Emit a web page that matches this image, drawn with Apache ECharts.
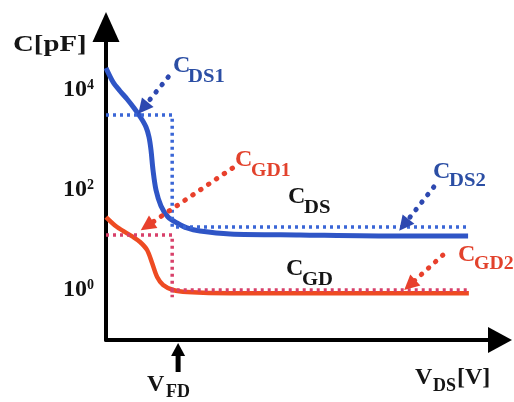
<!DOCTYPE html>
<html><head><meta charset="utf-8">
<script src="https://cdn.jsdelivr.net/npm/echarts@6/dist/echarts.min.js"></script>
<style>html,body{margin:0;padding:0;background:#fff}#c{width:514px;height:402px}</style>
</head><body><div id="c"></div>
<script>
// ---- data (V_DS in arbitrary units 0..100, C in pF, log scale) ----
const cdsX = [0, 1.78, 3.55, 5.33, 7.11, 8.88, 10.15, 10.91, 11.42, 11.93, 12.69, 13.96, 15.74, 18.02, 20.56, 23.86, 31.5, 49.2, 74.6, 91.9];
const cdsY = [27540, 14450, 9550, 6607, 4365, 2754, 1820, 1148, 631, 251, 100, 47.9, 28.8, 21.9, 17.4, 15.1, 13.2, 12.6, 12.0, 12.0];
const cgdX = [0, 2.8, 6.87, 8.65, 10.43, 11.7, 12.98, 14.5, 17.05, 20.6, 31.6, 92.1];
const cgdY = [28.8, 18.2, 11.5, 9.12, 6.31, 3.47, 1.82, 1.26, 1.0, 0.91, 0.86, 0.86];
const cds1Level = 3162, cds2Level = 18.2, cgd1Level = 12.6, cgd2Level = 1.0;
const dropX = 16.8, endX = 92, vfdX = 18.3;
const yTickExps = [0, 2, 4];
// annotation arrows: [fromX, fromC, toX, toC]
const arrowCDS1 = [15.8, 18200, 9.4, 4365];
const arrowCDS2 = [83.2, 115, 75.6, 20];
const arrowCGD1 = [32.1, 275, 10.4, 19.1];
const arrowCGD2 = [85.5, 5.0, 77.1, 1.26];

const zip = (xs, ys) => xs.map((x, i) => [x, ys[i]]);
const BLUE = '#2f55c6', BLUED = '#3a66d6', RED = '#ee4b22', REDD = '#d8406a';
const FONT = 'Liberation Serif';

function arrowML(a, color) {
  return {
    silent: true, symbol: ['none', 'triangle'], symbolSize: 15,
    label: {show: false},
    lineStyle: {color: color, width: 5, type: [0.5, 9], cap: 'round', opacity: 1},
    emphasis: {disabled: true},
    data: [[{coord: [a[0], a[1]]}, {coord: [a[2], a[3]]}]]
  };
}

const chart = echarts.init(document.getElementById('c'));
chart.setOption({
  animation: false,
  backgroundColor: '#fff',
  grid: {left: 106, right: 14, top: 27, bottom: 62},
  xAxis: {
    type: 'value', min: 0, max: 100,
    axisLine: {lineStyle: {color: '#000', width: 4}, symbol: ['none', 'triangle'], symbolSize: [26, 24]},
    axisTick: {show: false}, axisLabel: {show: false}, splitLine: {show: false}
  },
  yAxis: {
    type: 'log', logBase: 10, min: 0.1, max: 182000,
    axisLine: {show: true, onZero: false, lineStyle: {color: '#000', width: 4}, symbol: ['none', 'triangle'], symbolSize: [27, 30]},
    axisTick: {show: false}, splitLine: {show: false},
    axisLabel: {
      margin: 12,
      formatter: function (v) {
        const e = Math.log10(v), r = Math.round(e);
        if (Math.abs(e - r) > 0.01 || yTickExps.indexOf(r) < 0) return '';
        return '{a|10}{b|' + r + '}';
      },
      rich: {
        a: {fontFamily: FONT, fontWeight: 'bold', fontSize: 24, color: '#111'},
        b: {fontFamily: FONT, fontWeight: 'bold', fontSize: 14, color: '#111', verticalAlign: 'top'}
      }
    }
  },
  series: [
    {type: 'line', name: 'CDS', data: zip(cdsX, cdsY), showSymbol: false, smooth: 0.3,
     lineStyle: {color: BLUE, width: 5}, z: 2},
    {type: 'line', name: 'CGD', data: zip(cgdX, cgdY), showSymbol: false, smooth: 0.3,
     lineStyle: {color: RED, width: 4.5}, z: 2},
    {type: 'line', name: 'CDS levels', showSymbol: false,
     data: [[0, cds1Level], [dropX, cds1Level], [dropX, cds2Level], [endX, cds2Level]],
     lineStyle: {color: BLUED, width: 3.5, type: [3, 4]}, z: 3,
     markLine: arrowML(arrowCDS1, '#2d48b0')},
    {type: 'line', name: 'CGD levels', showSymbol: false,
     data: [[0, cgd1Level], [dropX, cgd1Level], [dropX, 0.72], [dropX, cgd2Level], [endX, cgd2Level]],
     lineStyle: {color: REDD, width: 3.5, type: [3, 4]}, z: 3,
     markLine: arrowML(arrowCGD1, '#e8402c')},
    {type: 'line', name: 'a2', data: [], markLine: arrowML(arrowCDS2, '#2d48b0')},
    {type: 'line', name: 'a3', data: [], markLine: arrowML(arrowCGD2, '#e8402c')}
  ]
});

function txt(x, y, s, size, color, sx) {
  return {type: 'text', x: x, y: y, scaleX: sx || 1, z: 20,
    style: {text: s, fontFamily: FONT, fontWeight: 'bold', fontSize: size, fill: color, align: 'left', verticalAlign: 'middle'}};
}
const K = '#151515', TB = '#2b4ea4', TR = '#e2422c';
const p = chart.convertToPixel({gridIndex: 0}, [vfdX, 0.1]);
const ax = p[0], ay = p[1];
chart.setOption({
  graphic: [
    txt(13, 45, 'C[pF]', 24, K, 1.2),
    txt(173, 66, 'C', 24, TB), txt(188, 77, 'DS1', 18, TB, 1.15),
    txt(235, 160, 'C', 24, TR), txt(251, 171, 'GD1', 18, TR, 1.1),
    txt(288, 197, 'C', 24, K), txt(304, 208, 'DS', 18, K, 1.15),
    txt(433, 172, 'C', 24, TB), txt(449, 181, 'DS2', 18, TB, 1.15),
    txt(286, 269, 'C', 24, K), txt(302, 280, 'GD', 18, K, 1.15),
    txt(458, 255, 'C', 24, TR), txt(474, 264, 'GD2', 18, TR, 1.1),
    txt(147, 385, 'V', 24, K), txt(166, 392, 'FD', 18, K),
    txt(415, 378, 'V', 24, K), txt(433, 386, 'DS', 18, K), txt(457, 378, '[V]', 24, K),
    {type: 'polygon', z: 20, shape: {points: [[ax, ay + 3], [ax - 7, ay + 16], [ax + 7, ay + 16]]}, style: {fill: '#000'}},
    {type: 'rect', z: 20, shape: {x: ax - 2.5, y: ay + 14, width: 5, height: 18}, style: {fill: '#000'}}
  ]
});
</script>
</body></html>
